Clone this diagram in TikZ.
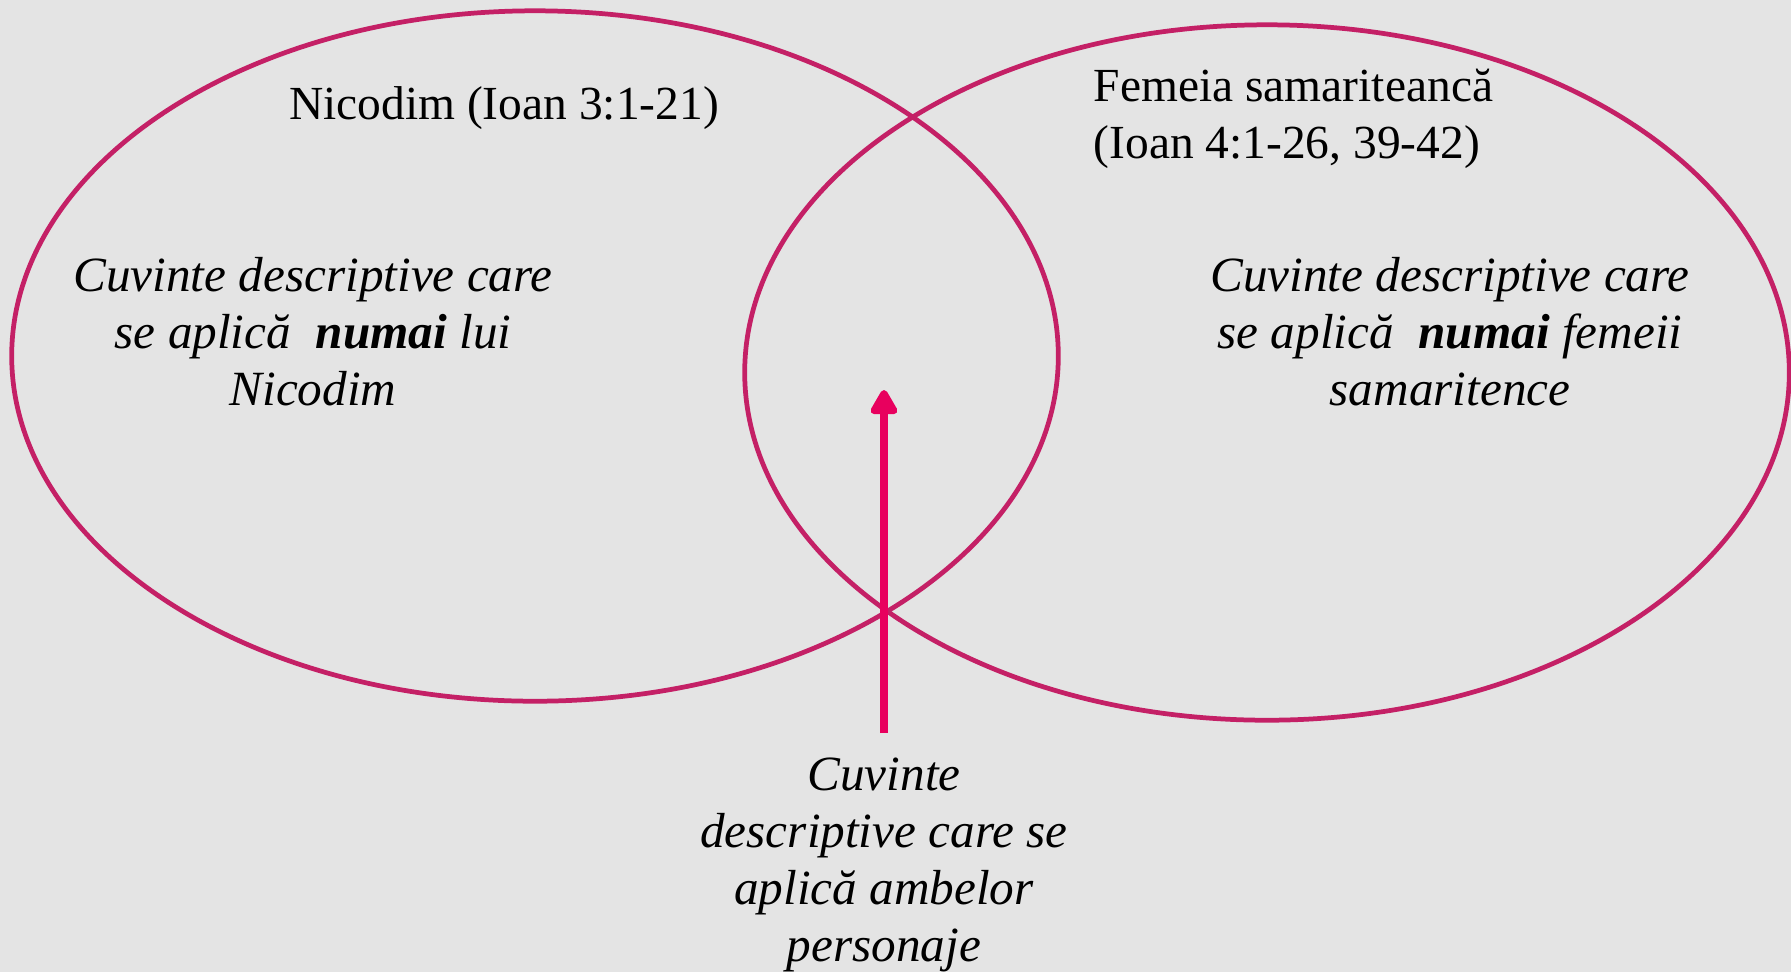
\documentclass[tikz,border=0pt]{standalone}
\usepackage{fontspec}
\setmainfont{Liberation Serif}
\usetikzlibrary{shapes.geometric,arrows.meta}
\definecolor{fundal}{RGB}{228,228,228}
\definecolor{contur}{RGB}{196,32,102}
\definecolor{rosu}{RGB}{232,0,94}
\tikzset{
    cerc/.style={ellipse, draw=contur, line width=1.35pt, inner sep=0pt},
    titlu/.style={font=\fontsize{13.5}{16.2}\selectfont, inner sep=0pt},
    descriere/.style={font=\fontsize{14}{16.2}\selectfont\itshape, align=center, inner sep=0pt},
    sageata/.style={draw=rosu, line width=2pt, -{Triangle[round, length=8pt, width=8.5pt]}}
}

\begin{document}
\begin{tikzpicture}[x=0.01cm, y=-0.01cm]
        \useasboundingbox (0,0) rectangle (1791,972);
        \fill[fundal] (0,0) rectangle (1791,972);

        \node[cerc, minimum width=10.46cm, minimum height=6.9cm] (nicodim) at (535,356) {};
        \node[cerc, minimum width=10.44cm, minimum height=6.95cm] (femeia) at (1267,372.5) {};

        \node[titlu, anchor=base] (tnicodim) at (504,119) {Nicodim (Ioan 3:1-21)};
        \node[titlu, anchor=north west, align=left] (tfemeia) at (1093,68) {Femeia samariteancă\\(Ioan 4:1-26, 39-42)};

        \node[descriere, anchor=north] (dnicodim) at (313,257) {Cuvinte descriptive care\\se aplică\ \ \textbf{numai} lui\\Nicodim};
        \node[descriere, anchor=north] (dfemeia) at (1450,257) {Cuvinte descriptive care\\se aplică\ \ \textbf{numai} femeii\\samaritence};
        \node[descriere, anchor=north] (ambele) at (884,757) {Cuvinte\\descriptive care se\\aplică ambelor\\personaje};

        \coordinate (start) at (884,733);
        \coordinate (varf) at (884,390);
        \draw[sageata] (start) -- (varf);
\end{tikzpicture}
\end{document}
